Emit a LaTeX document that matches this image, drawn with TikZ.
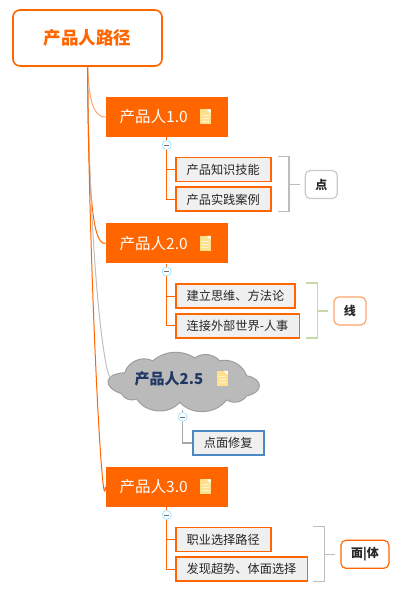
\documentclass[tikz,border=0pt]{standalone}
\usepackage{xcolor}
\usepackage{fontspec}
\setmainfont{Noto Sans CJK SC}
\usetikzlibrary{positioning, backgrounds}
\definecolor{mainorange}{HTML}{FF6600}
\definecolor{lightorange}{HTML}{FFA56B}
\definecolor{softgray}{HTML}{BDBDBD}
\definecolor{softgreen}{HTML}{C6D9A6}
\definecolor{navytext}{HTML}{1F3864}
\definecolor{fixblue}{HTML}{4F86C6}
\definecolor{notefill}{HTML}{FFE08C}

\begin{document}
\begin{tikzpicture}[
    node distance=4pt and 8pt,
    every node/.style={text=black!85},
    root/.style={rectangle, draw=mainorange, line width=1.6pt, fill=white, rounded corners=7pt, minimum width=149pt, minimum height=56pt, text=mainorange, font=\fontsize{17.5}{20}\selectfont\bfseries},
    version/.style={rectangle, fill=mainorange, minimum height=40pt, text width=94pt, inner xsep=14pt, inner ysep=0pt, align=left, text=white, font=\fontsize{15.5}{18}\selectfont},
    idea/.style={rectangle, draw=mainorange, line width=1.8pt, fill=black!6, minimum height=24pt, inner xsep=11pt, inner ysep=0pt, font=\fontsize{12.2}{14}\selectfont},
    tagbox/.style={rectangle, draw, line width=1.2pt, rounded corners=5pt, fill=white, minimum height=28pt, inner xsep=5pt, inner ysep=0pt, font=\fontsize{12}{14}\selectfont\bfseries},
    puff/.style={rectangle, minimum width=152pt, minimum height=57pt, inner sep=0pt, text width=96pt, align=left, text=navytext, font=\fontsize{15}{18}\selectfont\bfseries},
    puffline/.style={draw=black!38, line width=1pt, fill=black!27},
    noteicon/.style={rectangle, fill=notefill, minimum width=11pt, minimum height=15pt, inner sep=0pt, path picture={
        \fill[white] (path picture bounding box.north east) ++(-4pt,0pt) -- ++(4pt,0pt) -- ++(0pt,-4pt) -- cycle;
        \foreach \yy in {-4pt,-1pt,2pt} \draw[white!60!notefill, line width=.8pt] ([xshift=-3.5pt, yshift=\yy]path picture bounding box.center) -- ++(7pt,0pt);
    }},
    togglebox/.style={circle, draw=blue!30!cyan!35, line width=.8pt, fill=white, minimum size=9pt, inner sep=0pt, path picture={
        \draw[black!55, line width=.8pt] ([xshift=-2.5pt]path picture bounding box.center) -- ++(5pt,0pt);
    }},
    trunk/.style={draw=mainorange, line width=1pt},
    curveline/.style={line width=1pt, draw=mainorange},
    bracketline/.style={line width=1.6pt, draw=softgray},
]
    \useasboundingbox (0,0) rectangle (400pt,-593pt);

    % --- main flow ---
    \node[root] (title) at (87.5pt,-38pt) {产品人路径};
    \node[version, below right=30pt and 18pt of title.south] (ver1) {产品人1.0};
    \node[version, below=86pt of ver1] (ver2) {产品人2.0};
    \node[puff, below=89pt of ver2, xshift=16pt] (ver25) {\raisebox{7pt}{产品人2.5}};
    \node[version, below=203pt of ver2] (ver3) {产品人3.0};

    % --- cloud outline ---
    \begin{scope}[on background layer, shift={(ver25.center)}, x=1pt, y=1pt]
        \draw[puffline] (-58,8.5) to[bend left=50] (-30,20.5) to[bend left=35] (12,23.5)
            to[bend left=40] (37,20.5) to[bend left=40] (64,5.5)
            to[bend left=80, looseness=2.2] (64,-14.5) to[bend left=45] (44,-18.5)
            to[bend left=50] (-3,-21) to[bend left=55] (-46,-17.5)
            to[bend left=45] (-61,-12.5) to[bend left=80, looseness=2.5] cycle;
    \end{scope}

    % --- ideas ---
    \node[idea, below right=19.5pt and 8pt of ver1.south] (skill) {产品知识技能};
    \node[idea, below=4pt of skill.south west, anchor=north west] (cases) {产品实践案例};
    \node[idea, below right=19.5pt and 8pt of ver2.south] (method) {建立思维、方法论};
    \node[idea, below=4pt of method.south west, anchor=north west] (people) {连接外部世界-人事};
    \node[idea, draw=fixblue, line width=2.2pt, below right=20pt and 9pt of ver25.south] (repair) {点面修复};
    \node[idea, below right=19.5pt and 8pt of ver3.south] (career) {职业选择路径};
    \node[idea, below=4pt of career.south west, anchor=north west] (trend) {发现超势、体面选择};

    % --- tags ---
    \node[tagbox, draw=softgray!80, minimum width=32pt, right=33pt of cases.north east, yshift=2pt] (dian) {点};
    \node[tagbox, draw=lightorange, minimum width=32pt, right=33pt of people.north east, yshift=2pt] (xian) {线};
    \node[tagbox, draw=mainorange, minimum width=48pt, right=32pt of trend.north east, yshift=2pt] (mian) {面|体};
    \coordinate[left=16pt of dian.west] (dianmid);
    \coordinate[left=16pt of xian.west] (xianmid);
    \coordinate[left=16pt of mian.west] (mianmid);

    % --- arrows ---
    \draw[curveline, lightorange] (title.south) to[out=-85, in=180, looseness=.8] (ver1.west);
    \draw[curveline] (title.south) .. controls +(1pt,-120pt) and +(-14pt,-2pt) .. (ver2.west);
    \draw[curveline, black!25] (title.south) .. controls +(2pt,-200pt) and +(-6pt,-12pt) .. ([xshift=5pt, yshift=5pt]ver25.west);
    \draw[curveline] (title.south) .. controls +(2pt,-220pt) and +(-3pt,-40pt) .. (ver3.west);

    \draw[trunk] (ver1.south) |- (skill.west);
    \draw[trunk] (ver1.south) |- (cases.west);
    \draw[trunk] (ver2.south) |- (method.west);
    \draw[trunk] (ver2.south) |- (people.west);
    \draw[trunk, draw=black!35, line width=1.4pt] (ver25.south) |- (repair.west);
    \draw[trunk] (ver3.south) |- (career.west);
    \draw[trunk] (ver3.south) |- (trend.west);

    % --- brackets ---
    \draw[bracketline] (dianmid) ++(-11pt,28pt) -- ++(11pt,0pt) -- ++(0pt,-55pt) -- ++(-11pt,0pt);
    \draw[bracketline, shorten >=5pt] (dianmid) -- (dian.west);
    \draw[bracketline, softgreen] (xianmid) ++(-11pt,28pt) -- ++(11pt,0pt) -- ++(0pt,-55pt) -- ++(-11pt,0pt);
    \draw[bracketline, softgreen, shorten >=5pt] (xianmid) -- (xian.west);
    \draw[bracketline] (mianmid) ++(-11pt,28pt) -- ++(11pt,0pt) -- ++(0pt,-55pt) -- ++(-11pt,0pt);
    \draw[bracketline, shorten >=5pt] (mianmid) -- (mian.west);

    % --- toggles and icons ---
    \node[togglebox, below=3pt of ver1.south] (toggle1) {};
    \node[togglebox, below=3pt of ver2.south] (toggle2) {};
    \node[togglebox, below=2pt of ver25.south] (toggle25) {};
    \node[togglebox, below=3pt of ver3.south] (toggle3) {};
    \node[noteicon, left=17pt of ver1.east] (note1) {};
    \node[noteicon, left=17pt of ver2.east] (note2) {};
    \node[noteicon, left=31pt of ver25.east, yshift=3pt] (note25) {};
    \node[noteicon, left=17pt of ver3.east] (note3) {};

\end{tikzpicture}
\end{document}
